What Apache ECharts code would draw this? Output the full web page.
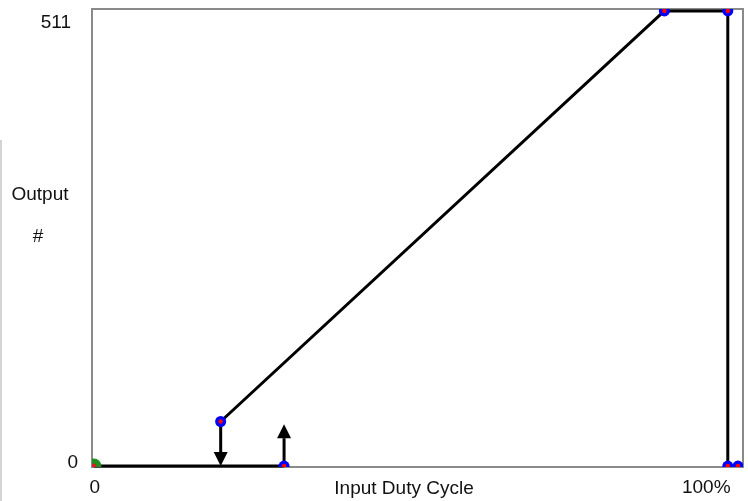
<!DOCTYPE html>
<html>
<head>
<meta charset="utf-8">
<script src="https://cdn.jsdelivr.net/npm/echarts@6/dist/echarts.min.js"></script>
<style>
  html, body { margin: 0; padding: 0; background: #fff; }
</style>
</head>
<body>
<div id="dutyChart" style="width: 748px;height: 501px;"></div>
<script>
// input duty cycle (%) -> output #
const baseX = [0, 30]
const baseY = [0, 0]
const curveX = [20, 90, 100, 100]
const curveY = [50, 511, 511, 0]
const pointX = [20, 30, 90, 100, 100, 101.6]
const pointY = [50, 0, 511, 511, 0, 0]
const originPoint = [0, 0]
// arrows: [x, from, to]
const arrowDown = [20, 50, 0]
const arrowUp = [30, 0, 47]
const xTicks = [0, 100]
const xTickLabels = ['0', '100%']
const yTicks = [0, 511]
const yTickLabels = ['0', '511']

const font = 'Liberation Sans, Arial, sans-serif'
const zip = (xs, ys) => xs.map((x, i) => [x, ys[i]])

const chart = echarts.init(document.getElementById('dutyChart'))

function renderArrow(params, api) {
  const p0 = api.coord([api.value(0), api.value(1)])
  const p1 = api.coord([api.value(0), api.value(2)])
  const dir = p1[1] > p0[1] ? 1 : -1
  const headLen = 14
  const headW = 7
  const base = p1[1] - dir * headLen
  return {
    type: 'group',
    children: [
      {
        type: 'line',
        shape: { x1: p0[0], y1: p0[1], x2: p1[0], y2: base },
        style: { stroke: '#000', lineWidth: 3 }
      },
      {
        type: 'polygon',
        shape: { points: [[p1[0], p1[1]], [p1[0] - headW, base], [p1[0] + headW, base]] },
        style: { fill: '#000' }
      }
    ]
  }
}

// blue dot with a red centre, clipped by the plot area
function makeDot(outer, inner, outerColor, innerColor) {
  return function (params, api) {
    const p = api.coord([api.value(0), api.value(1)])
    return {
      type: 'group',
      children: [
        { type: 'circle', shape: { cx: p[0], cy: p[1], r: outer }, style: { fill: outerColor } },
        { type: 'circle', shape: { cx: p[0], cy: p[1], r: inner }, style: { fill: innerColor } }
      ]
    }
  }
}

const option = {
  animation: false,
  backgroundColor: '#fff',
  grid: {
    left: 92,
    right: 5,
    top: 9,
    bottom: 34,
    show: true,
    borderColor: '#8a8a8a',
    borderWidth: 2,
    backgroundColor: '#fff'
  },
  xAxis: {
    type: 'value',
    min: -0.3,
    max: 102.4,
    axisLine: { show: false },
    axisTick: { show: false },
    splitLine: { show: false },
    axisLabel: {
      customValues: xTicks,
      margin: 11,
      color: '#111',
      fontFamily: font,
      fontSize: 19,
      formatter: v => {
        const i = xTicks.indexOf(v)
        return i === 0 ? '{l|' + xTickLabels[i] + '}' : '{r|' + xTickLabels[i] + '}'
      },
      rich: {
        l: { fontFamily: font, fontSize: 19, color: '#111', padding: [0, 0, 0, 2] },
        r: { fontFamily: font, fontSize: 19, color: '#111', padding: [0, 43, 0, 0] }
      }
    }
  },
  yAxis: {
    type: 'value',
    min: -1.1,
    max: 513.2,
    axisLine: { show: false },
    axisTick: { show: false },
    splitLine: { show: false },
    axisLabel: {
      customValues: yTicks,
      margin: 14,
      color: '#111',
      fontFamily: font,
      fontSize: 19,
      formatter: v => {
        const i = yTicks.indexOf(v)
        return i === 0 ? '{b|' + yTickLabels[i] + '}' : '{t|' + yTickLabels[i] + '}'
      },
      rich: {
        b: { fontFamily: font, fontSize: 19, color: '#111', padding: [0, 0, 6, 0] },
        t: { fontFamily: font, fontSize: 19, color: '#111', padding: [23, 7, 0, 0] }
      }
    }
  },
  graphic: [
    { type: 'rect', left: 0, top: 140, shape: { width: 2, height: 361 }, style: { fill: '#d4d4d4' } },
    {
      type: 'text', x: 40, y: 195,
      style: { text: 'Output', font: '19px ' + font, fill: '#111', align: 'center', verticalAlign: 'middle' }
    },
    {
      type: 'text', x: 38, y: 237,
      style: { text: '#', font: '19px ' + font, fill: '#111', align: 'center', verticalAlign: 'middle' }
    },
    {
      type: 'text', x: 404, y: 489,
      style: { text: 'Input Duty Cycle', font: '19px ' + font, fill: '#111', align: 'center', verticalAlign: 'middle' }
    }
  ],
  series: [
    {
      type: 'line',
      data: zip(baseX, baseY),
      symbol: 'none',
      lineStyle: { color: '#000', width: 3 }
    },
    {
      type: 'line',
      data: zip(curveX, curveY),
      symbol: 'none',
      lineStyle: { color: '#000', width: 3 }
    },
    {
      type: 'custom',
      renderItem: renderArrow,
      data: [arrowDown, arrowUp],
      z: 3
    },
    {
      type: 'custom',
      renderItem: makeDot(7.5, 2.5, '#1f8f1f', '#d81e1e'),
      data: [originPoint],
      clip: true,
      z: 4
    },
    {
      type: 'custom',
      renderItem: makeDot(5.5, 2.2, '#0000ff', '#ff0000'),
      data: zip(pointX, pointY),
      clip: true,
      z: 5
    }
  ]
}

chart.setOption(option)
</script>
</body>
</html>
